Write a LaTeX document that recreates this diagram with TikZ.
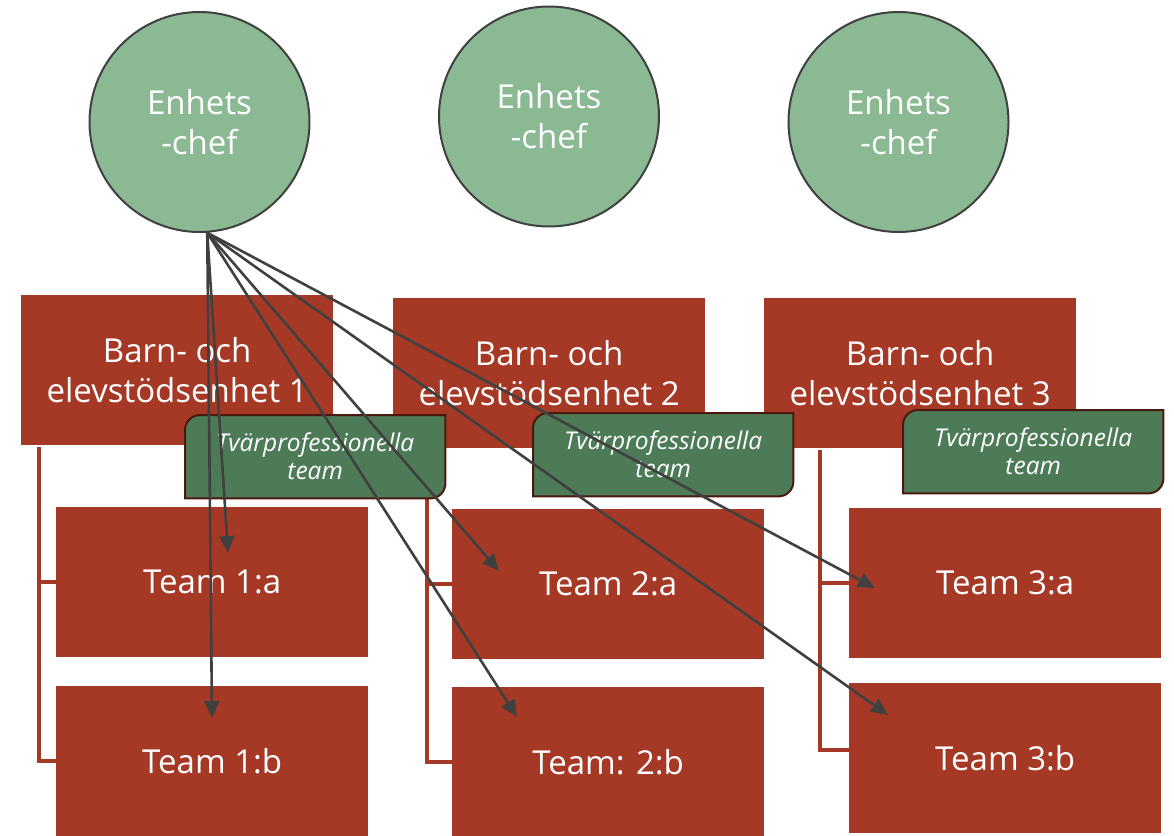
\documentclass[tikz,border=0pt]{standalone}
\usepackage{fontspec}
\setmainfont{Open Sans}
\usetikzlibrary{arrows.meta,calc}
\definecolor{boxred}{RGB}{165,57,38}
\definecolor{circfill}{RGB}{139,185,147}
\definecolor{circline}{RGB}{64,64,64}
\definecolor{tabfill}{RGB}{77,123,87}
\definecolor{tabline}{RGB}{74,24,14}
\definecolor{arrowgray}{RGB}{64,64,64}
\begin{document}
\begin{tikzpicture}[x=1pt,y=-1pt,
  chef/.style={circle, draw=circline, line width=2pt, fill=circfill, minimum size=220pt,
    inner sep=0pt, text=white, align=center, font=\fontsize{33}{40}\selectfont},
  unitbox/.style={rectangle, fill=boxred, minimum width=312pt, minimum height=150pt,
    anchor=north west, inner sep=0pt, text=white, align=center,
    font=\fontsize{33}{40}\selectfont},
  tabtext/.style={rectangle, minimum width=260pt, minimum height=83pt, anchor=north west,
    inner sep=0pt, text=white, align=center, font=\fontsize{24.5}{28}\selectfont\itshape},
  tabshape/.style={fill=tabfill, draw=tabline, line width=2pt},
  redline/.style={draw=boxred, line width=4pt},
  arr/.style={draw=arrowgray, line width=2.6pt, -{Triangle[length=17pt,width=15pt]}}
]
\useasboundingbox (0,0) rectangle (1174,835);

% circles
\node[chef] (c1) at (199.5,122) {Enhets\\-chef};
\node[chef] (c2) at (549,116.5) {Enhets\\-chef};
\node[chef] (c3) at (898.5,122) {Enhets\\-chef};

% units
\node[unitbox] (u1) at (21,295) {Barn- och\\elevstödsenhet 1};
\node[unitbox] (u2) at (393,298) {Barn- och\\elevstödsenhet 2};
\node[unitbox] (u3) at (764,298) {Barn- och\\elevstödsenhet 3};

% teams
\node[unitbox] (t1a) at (56,507) {Team 1:a};
\node[unitbox] (t1b) at (56,686) {Team 1:b};
\node[unitbox] (t2a) at (452,509) {Team 2:a};
\node[unitbox] (t2b) at (452,687) {Team: 2:b};
\node[unitbox] (t3a) at (849,508) {Team 3:a};
\node[unitbox] (t3b) at (849,683) {Team 3:b};

% red connectors
\coordinate (k1) at (39,447);
\coordinate (k2) at (427,448);
\coordinate (k3) at (820,450);
\draw[redline] (k1) |- (t1b.west);
\draw[redline] (k1 |- t1a.west) -- (t1a.west);
\draw[redline] (k2) |- (t2b.west);
\draw[redline] (k2 |- t2a.west) -- (t2a.west);
\draw[redline] (k3) |- ([yshift=8pt]t3b.west);
\draw[redline] (k3 |- t3a.west) -- (t3a.west);

% tabs
\node[tabtext] (p1) at (185,415) {};
\node[tabtext] (p2) at (533,413) {};
\node[tabtext] (p3) at (903,410) {};
\foreach \p in {p1,p2,p3}{
  \draw[tabshape] (\p.south west) -- ([yshift=-15pt]\p.north west)
    arc[start angle=180, end angle=90, radius=15pt] -- (\p.north east)
    -- ([yshift=15pt]\p.south east)
    arc[start angle=0, end angle=-90, radius=15pt] -- cycle;
}
\node[tabtext] at (p1.north west) {Tvärprofessionella\\team};
\node[tabtext] at (p2.north west) {Tvärprofessionella\\team};
\node[tabtext] at (p3.north west) {Tvärprofessionella\\team};

% arrows
\coordinate (src) at (c1.-86);
\coordinate (e1a) at (228,553);
\coordinate (e1b) at (212,718);
\coordinate (e2a) at (499,571);
\coordinate (e2b) at (517,717);
\coordinate (e3a) at (875,588);
\coordinate (e3b) at (888,715);
\draw[arr] (src) -- (e1a);
\draw[arr] (src) -- (e1b);
\draw[arr] (src) -- (e2a);
\draw[arr] (src) -- (e2b);
\draw[arr] (src) -- (e3a);
\draw[arr] (src) -- (e3b);
\end{tikzpicture}
\end{document}
